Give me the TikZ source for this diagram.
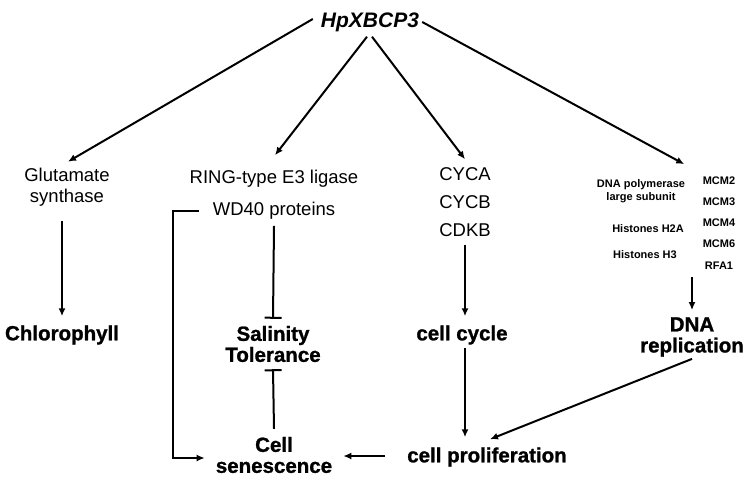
\documentclass[tikz,border=0pt]{standalone}
\usepackage{fontspec}
\setmainfont{Liberation Sans}
\newfontfamily\heavyfont{Liberation Sans}[BoldFeatures={FakeBold=1.2}]
\usetikzlibrary{arrows.meta,calc}
\tikzset{
	gene/.style={font=\fontsize{18.5}{21}\selectfont, align=center, inner sep=0pt},
	small/.style={font=\bfseries\fontsize{11}{13}\selectfont, align=center, inner sep=0pt},
	effect/.style={font=\heavyfont\bfseries\fontsize{20.5}{21}\selectfont, align=center, inner sep=0pt},
	act/.style={line width=2pt, -{Latex[length=8pt,width=7pt]}},
	inhib/.style={line width=2pt, -{Bar[width=17pt,line width=2pt]}}
}
\begin{document}
\begin{tikzpicture}[x=1pt,y=-1pt]
	\useasboundingbox (0,0) rectangle (751,482);
		% top gene
			\node[font=\bfseries\itshape\fontsize{21}{24}\selectfont, inner sep=0pt] (hp) at (370,22) {HpXBCP3};
		% targets
			\node[gene] (glu) at (67,187) {Glutamate\\synthase};
			\node[gene] (ring) at (274,179) {RING-type E3 ligase};
			\node[gene] (wd) at (274,211) {WD40 proteins};
			\foreach \n/\t/\y in {cyca/CYCA/174,cycb/CYCB/202,cdkb/CDKB/230}{
				\node[gene] (\n) at (465,\y) {\t};
				}
			\node[small] (pol) at (641,191) {DNA polymerase\\large subunit};
			\node[small] (h2a) at (648,229) {Histones H2A};
			\node[small] (h3) at (645,255) {Histones H3};
			\foreach \n/\t/\y in {mcm2/MCM2/181,mcm3/MCM3/202,mcm4/MCM4/223,mcm6/MCM6/244,rfa/RFA1/266}{
				\node[small] (\n) at (719,\y) {\t};
				}
		% effects
			\node[effect] (chl) at (62,335) {Chlorophyll};
			\node[effect] (sal) at (273,344) {Salinity\\Tolerance};
			\node[effect] (cc) at (462,335) {cell cycle};
			\node[effect] (rep) at (692,337) {DNA\\replication};
			\node[effect] (sen) at (274,455) {Cell\\senescence};
			\node[effect] (pro) at (487,457) {cell proliferation};
		% from HpXBCP3
			\draw[act] ($(hp.west)+(-8,-3)$) -- ($(glu.north)+(1,-6)$);
			\draw[act] ($(hp.south)+(-3,5)$) -- ($(ring.north)+(1,-15)$);
			\draw[act] ($(hp.south)+(2,5)$) -- ($(cyca.north)+(0,-8)$);
			\draw[act] ($(hp.east)+(3,0)$) -- ($(pol.north east)+(-1,-15)$);
		% downstream
			\draw[act] ($(glu.south -| chl.north)+(0,15)$) -- ($(chl.north)+(0,-9)$);
			\draw[inhib] ($(wd.south)+(0,6)$) -- ($(sal.north)+(0,-7)$);
			\draw[inhib] ($(sen.north)+(0,-8)$) -- ($(sal.south)+(0,7)$);
			\draw[act] ($(wd.west)+(-14,0)$) -- ++(-26,0) |- ($(sen.west)+(-11,3)$);
			\draw[act] ($(cdkb.south)+(0,8)$) -- ($(cdkb.south |- cc.north)+(0,-9)$);
			\draw[act] ($(cc.south)+(3,3)$) -- ($(cc.south |- pro.north)+(3,-10)$);
			\draw[act] ($(rfa.south -| rep.north)+(0,7)$) -- ($(rep.north)+(0,-7)$);
			\draw[act] ($(rep.south)+(0,2)$) -- ($(pro.north)+(3,-8)$);
			\draw[act] ($(pro.west)+(-22,-1)$) -- ($(pro.west -| sen.east)+(11,-1)$);
\end{tikzpicture}
\end{document}
